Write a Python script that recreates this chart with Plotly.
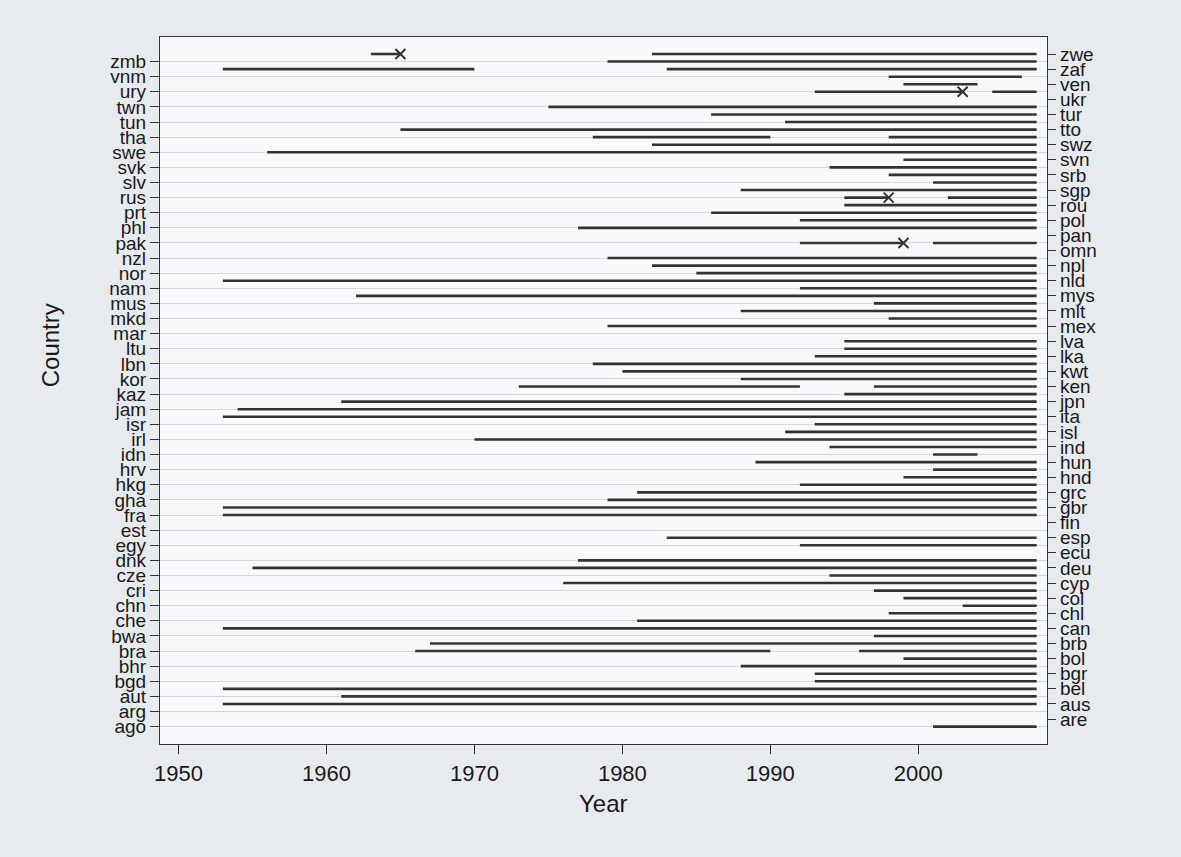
import plotly.graph_objects as go

countries = ["ago","are","arg","aus","aut","bel","bgd","bgr","bhr","bol","bra","brb","bwa","can",
             "che","chl","chn","col","cri","cyp","cze","deu","dnk","ecu","egy","esp","est","fin",
             "fra","gbr","gha","grc","hkg","hnd","hrv","hun","idn","ind","irl","isl","isr","ita",
             "jam","jpn","kaz","ken","kor","kwt","lbn","lka","ltu","lva","mar","mex","mkd","mlt",
             "mus","mys","nam","nld","nor","npl","nzl","omn","pak","pan","phl","pol","prt","rou",
             "rus","sgp","slv","srb","svk","svn","swe","swz","tha","tto","tun","tur","twn","ukr",
             "ury","ven","vnm","zaf","zmb","zwe"]

# observed periods (country, first year, last year)
seg_country = ["zwe","zwe","zmb","zaf","zaf","vnm","ven","ury","ury","twn","tur","tun","tto",
               "tha","tha","swz","swe","svn","svk","srb","slv","sgp","rus","rus","rou","prt",
               "pol","phl","pak","pak","nzl","npl","nor","nld","nam","mys","mus","mlt","mkd",
               "mex","lva","ltu","lka","lbn","kwt","kor","ken","ken","kaz","jpn","jam","ita",
               "isr","isl","irl","ind","idn","hun","hrv","hnd","hkg","grc","gha","gbr","fra",
               "esp","egy","dnk","deu","cze","cyp","cri","col","chn","chl","che","can","bwa",
               "brb","bra","bra","bol","bhr","bgr","bgd","bel","aut","aus","ago"]
seg_start = [1963,1982,1979,1953,1983,1998,1999,1993,2005,1975,1986,1991,1965,
             1978,1998,1982,1956,1999,1994,1998,2001,1988,1995,2002,1995,1986,
             1992,1977,1992,2001,1979,1982,1985,1953,1992,1962,1997,1988,1998,
             1979,1995,1995,1993,1978,1980,1988,1973,1997,1995,1961,1954,1953,
             1993,1991,1970,1994,2001,1989,2001,1999,1992,1981,1979,1953,1953,
             1983,1992,1977,1955,1994,1976,1997,1999,2003,1998,1981,1953,1997,
             1967,1966,1996,1999,1988,1993,1993,1953,1961,1953,2001]
seg_end = [1965,2008,2008,1970,2008,2007,2004,2003,2008,2008,2008,2008,2008,
           1990,2008,2008,2008,2008,2008,2008,2008,2008,1998,2008,2008,2008,
           2008,2008,1999,2008,2008,2008,2008,2008,2008,2008,2008,2008,2008,
           2008,2008,2008,2008,2008,2008,2008,1992,2008,2008,2008,2008,2008,
           2008,2008,2008,2008,2004,2008,2008,2008,2008,2008,2008,2008,2008,
           2008,2008,2008,2008,2008,2008,2008,2008,2008,2008,2008,2008,2008,
           2008,1990,2008,2008,2008,2008,2008,2008,2008,2008,2008]

# single marked years
mark_country = ["zwe","ury","rus","pak"]
mark_year = [1965,2003,1998,1999]

x_ticks = [1950,1960,1970,1980,1990,2000]

idx = {c: i for i, c in enumerate(countries)}
left_vals = [i for i in range(len(countries)) if i % 2 == 0]
right_vals = [i for i in range(len(countries)) if i % 2 == 1]

xs, ys = [], []
for c, s, e in zip(seg_country, seg_start, seg_end):
    xs += [s, e, None]
    ys += [idx[c], idx[c], None]

ink = "#333333"
font = "Liberation Sans, Arial, sans-serif"

fig = go.Figure()
fig.add_trace(go.Scatter(x=xs, y=ys, mode="lines", line=dict(color=ink, width=2.6),
                         showlegend=False, hoverinfo="skip"))
fig.add_trace(go.Scatter(x=mark_year, y=[idx[c] for c in mark_country], mode="markers",
                         marker=dict(symbol="x-thin", size=10, line=dict(color=ink, width=2)),
                         showlegend=False))
fig.add_trace(go.Scatter(x=[None], y=[None], yaxis="y2", showlegend=False, hoverinfo="skip"))

yr = [-2.3, 91.25]
fig.update_layout(
    width=1181, height=857,
    margin=dict(l=160, r=134, t=37, b=113),
    paper_bgcolor="#E8EBEE",
    plot_bgcolor="#F8F9FA",
    font=dict(family=font, color="#1a1a1a"),
    xaxis=dict(range=[1948.75, 2008.7], tickvals=x_ticks, ticks="outside", ticklen=9,
               tickcolor=ink, tickwidth=1.2, showline=True, linecolor=ink, linewidth=1.2,
               mirror=True, showgrid=False, zeroline=False, tickfont=dict(size=22)),
    yaxis=dict(range=yr, tickvals=left_vals, ticktext=[countries[i] for i in left_vals],
               ticks="outside", ticklen=9, tickcolor=ink, tickwidth=1.2, showline=True,
               linecolor=ink, linewidth=1.2, showgrid=True, gridcolor="#D6D9DC", gridwidth=1,
               zeroline=False, tickfont=dict(size=19)),
    yaxis2=dict(range=yr, overlaying="y", side="right", tickvals=right_vals,
                ticktext=[countries[i] for i in right_vals], ticks="outside", ticklen=8,
                tickcolor=ink, tickwidth=1.2, showline=True, linecolor=ink, linewidth=1.2,
                showgrid=False, zeroline=False, tickfont=dict(size=19)),
    annotations=[
        dict(text="Year", xref="paper", yref="paper", x=0.5, y=-0.0835, xanchor="center",
             yanchor="middle", showarrow=False, font=dict(size=24)),
        dict(text="Country", xref="paper", yref="paper", x=-0.124, y=0.564, xanchor="center",
             yanchor="middle", textangle=-90, showarrow=False, font=dict(size=24)),
    ],
)

fig.write_html("out.html", config={"displayModeBar": False},
               post_script="document.body.style.margin='0';document.body.style.background='#E8EBEE';")
